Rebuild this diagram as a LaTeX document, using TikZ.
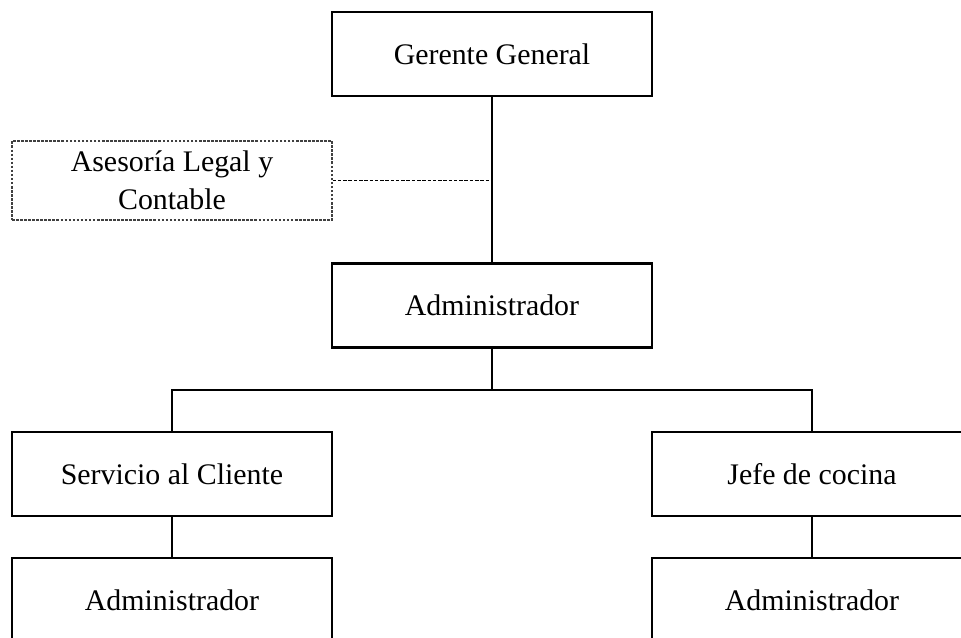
\documentclass[tikz,border=0pt]{standalone}
\usepackage{fontspec}
\setmainfont{Liberation Serif}

\tikzset{
  cargo/.style={draw, line width=1.3pt, minimum width=6.4cm, minimum height=1.68cm, align=center, inner sep=0pt},
  asesor/.style={draw=black!75, line width=0.8pt, dash pattern=on 1.5pt off 0.8pt, minimum width=6.4cm, minimum height=1.58cm, align=center, inner sep=0pt},
}

\begin{document}
\begin{tikzpicture}[x={(0.02cm,0)}, y={(0,-0.02cm)}, font=\fontsize{17}{21.5}\selectfont]
    \path[use as bounding box, clip] (0,0) rectangle (961,637);

    \node[cargo] (gg) at (492,54) {Gerente General};
    \node[asesor] (ase) at (172,180.5) {Asesoría Legal y\\Contable};
    \node[cargo] (adm) at (492,305.5) {Administrador};
    \node[cargo] (sc) at (172,474) {Servicio al Cliente};
    \node[cargo] (jc) at (812,474) {Jefe de cocina};
    \node[cargo] (adm1) at (172,600) {Administrador};
    \node[cargo] (adm2) at (812,600) {Administrador};
    \coordinate (bus) at (492,390);

    \draw[line width=1.3pt] (gg.south) -- (adm.north); % linea de mando.
    \draw[line width=1.1pt, dash pattern=on 2pt off 1pt] (ase.east) -- (gg.south |- ase.east);
    \draw[line width=1.3pt] (adm.south) -- (bus);
    \draw[line width=1.3pt] (sc.north) -- (sc.north |- bus) -- (jc.north |- bus) -- (jc.north);
    \draw[line width=1.3pt] (sc.south) -- (adm1.north);
    \draw[line width=1.3pt] (jc.south) -- (adm2.north);
\end{tikzpicture}
\end{document}
